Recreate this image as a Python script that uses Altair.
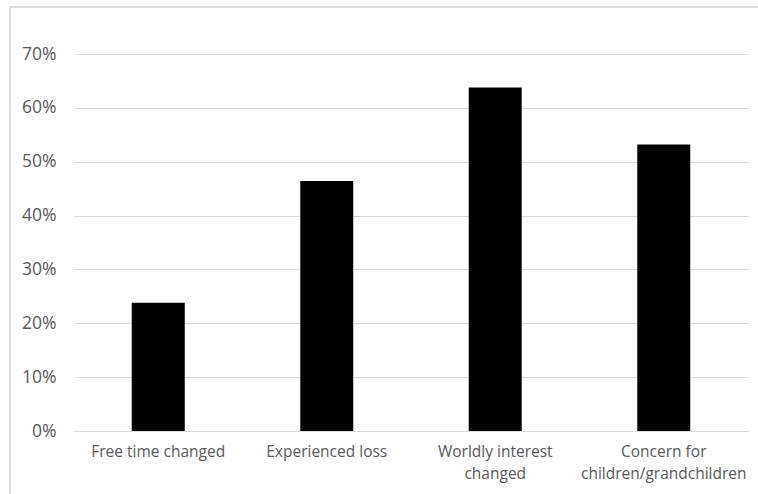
import altair as alt
import pandas as pd

categories = ["Free time changed", "Experienced loss", "Worldly interest|changed", "Concern for|children/grandchildren"]
values = [0.238, 0.464, 0.638, 0.532]

df = pd.DataFrame({"category": categories, "value": values})

FONT = "Open Sans"
LBL = "#595959"

bars = alt.Chart(df).mark_bar(color="#000000", size=53).encode(
    x=alt.X("category:N", sort=categories,
            scale=alt.Scale(paddingInner=0, paddingOuter=0),
            axis=alt.Axis(title=None, labelAngle=0, domain=True, domainColor="#d9d9d9",
                          ticks=False, labelColor=LBL, labelFont=FONT, labelFontSize=15.5,
                          labelPadding=13, labelLineHeight=22,
                          labelExpr="split(datum.label, '|')")),
    y=alt.Y("value:Q", scale=alt.Scale(domain=[0, 0.7], nice=False),
            axis=alt.Axis(title=None, format=".0%", values=[0, .1, .2, .3, .4, .5, .6, .7],
                          domain=False, ticks=False, grid=True, gridColor="#d9d9d9",
                          labelColor=LBL, labelFont=FONT, labelFontSize=17.5,
                          labelPadding=18)),
)

border_left = alt.Chart(df).mark_rule(color="#d9d9d9").encode(
    x=alt.value(-64), y=alt.value(-47), y2=alt.value(460))
border_top = alt.Chart(df).mark_rule(color="#d9d9d9").encode(
    x=alt.value(-64), x2=alt.value(700), y=alt.value(-47))

chart = alt.layer(bars, border_left, border_top).properties(
    width=674, height=377,
    autosize=alt.AutoSizeParams(type="none"),
    padding={"left": 74, "top": 54, "right": 10, "bottom": 63},
    background="white",
).configure_view(stroke=None)

chart.save("out.html", embed_options={"renderer": "svg", "actions": False})
